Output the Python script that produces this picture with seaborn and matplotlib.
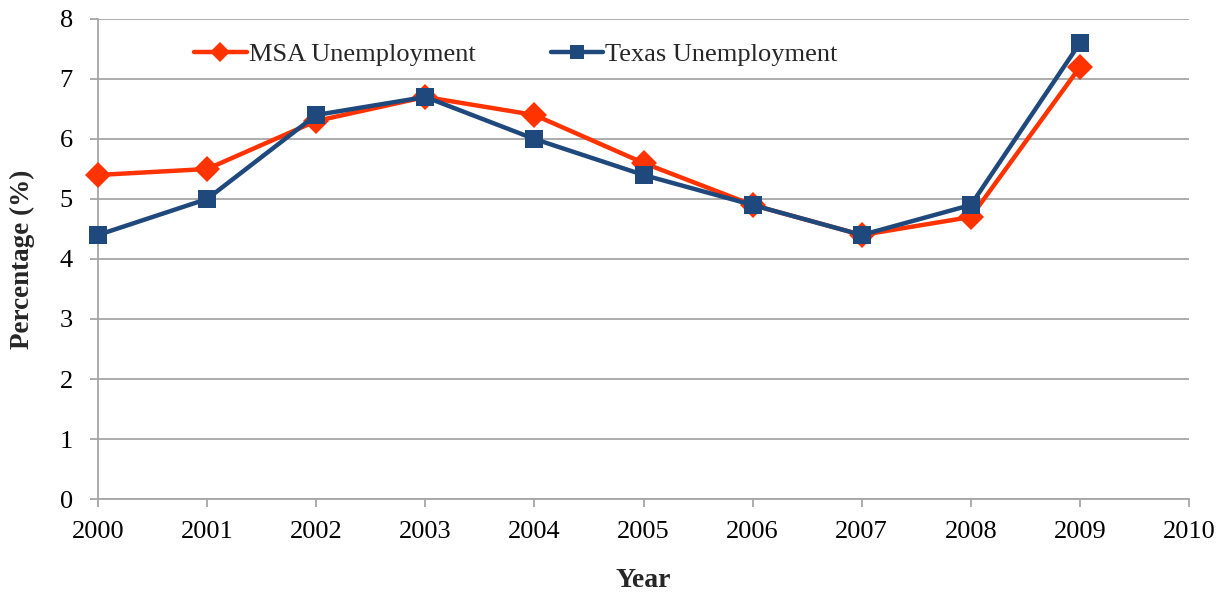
import numpy as np
import pandas as pd
import matplotlib
matplotlib.use("Agg")
import matplotlib.pyplot as plt
import seaborn as sns

# --- data ---
years = [2000, 2001, 2002, 2003, 2004, 2005, 2006, 2007, 2008, 2009]
msa_unemp = [5.4, 5.5, 6.3, 6.7, 6.4, 5.6, 4.9, 4.4, 4.7, 7.2]
texas_unemp = [4.4, 5.0, 6.4, 6.7, 6.0, 5.4, 4.9, 4.4, 4.9, 7.6]
series_names = ["MSA Unemployment", "Texas Unemployment"]
x_ticks = list(range(2000, 2011))
y_ticks = list(range(0, 9))

df = pd.DataFrame({
    "Year": years * 2,
    "Rate": msa_unemp + texas_unemp,
    "Series": [series_names[0]] * len(years) + [series_names[1]] * len(years),
})

sns.set_style("white")
plt.rcParams["font.family"] = ["Liberation Serif", "DejaVu Serif"]

palette = {series_names[0]: "#FF3300", series_names[1]: "#1F497D"}
markers = {series_names[0]: "D", series_names[1]: "s"}

fig = plt.figure(figsize=(12.28, 5.93), dpi=100)
ax = fig.add_axes([0.0798, 0.1585, 0.8885, 0.8095])

for name in series_names:
    sub = df[df["Series"] == name]
    sns.lineplot(data=sub, x="Year", y="Rate", color=palette[name],
                 marker=markers[name], markersize=13,
                 markeredgewidth=0, linewidth=3.2, label=name, ax=ax,
                 clip_on=False, zorder=3)

ax.set_xlim(2000, 2010)
ax.set_ylim(0, 8)
ax.set_xticks(x_ticks)
ax.set_yticks(y_ticks)
ax.yaxis.grid(True, color="#A6A6A6", linewidth=1.3)
ax.set_axisbelow(True)
for s in ["top", "right"]:
    ax.spines[s].set_visible(False)
for s in ["left", "bottom"]:
    ax.spines[s].set_color("#A6A6A6")
    ax.spines[s].set_linewidth(1.3)
ax.tick_params(axis="both", direction="out", length=6, width=1.3,
               color="#A6A6A6", labelsize=19, labelcolor="black", left=True, bottom=True)
ax.tick_params(axis="x", pad=10)
ax.tick_params(axis="y", pad=12)

ax.set_xlabel("Year", fontsize=20, fontweight="bold", labelpad=18)
ax.set_ylabel("Percentage (%)", fontsize=19.5, fontweight="bold", labelpad=18)

leg = ax.legend(loc="upper left", bbox_to_anchor=(0.066, 1.0), ncol=2, frameon=False,
                fontsize=19, handlelength=2.0, handletextpad=0.08, columnspacing=2.85,
                markerscale=0.8)

fig.savefig("out.png", dpi=100)
